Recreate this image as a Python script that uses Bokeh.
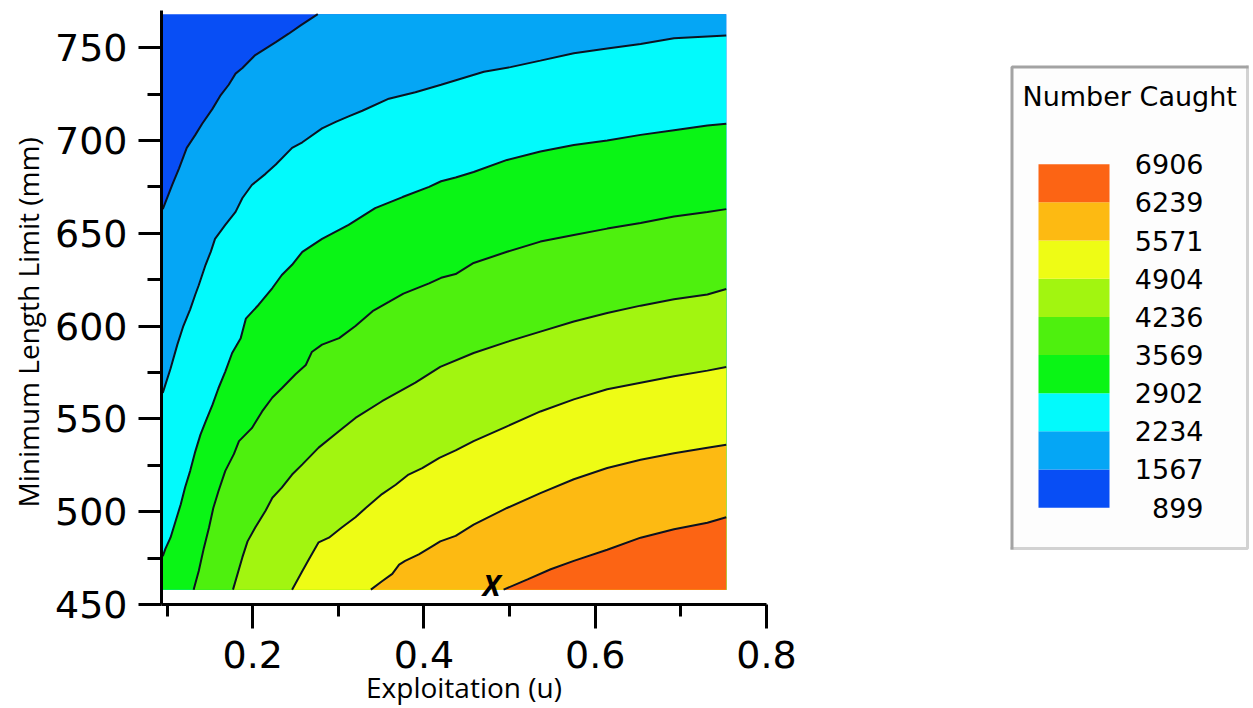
from bokeh.plotting import figure
from bokeh.models import Range1d, FixedTicker, Title
from bokeh.layouts import row
from bokeh.embed import file_html
from bokeh.resources import INLINE
from bokeh.core.properties import value

# ---------------- data ----------------
LEVELS = [899, 1567, 2234, 2902, 3569, 4236, 4904, 5571, 6239, 6906]
LEVEL_LABELS = ["899", "1567", "2234", "2902", "3569", "4236", "4904", "5571", "6239", "6906"]
BAND_COLORS = ["#084EF5", "#05A6F5", "#02FAFC", "#0AF515", "#4EF00E",
               "#A2F510", "#EEFC15", "#FDBA12", "#FC6414"]

U_MIN, U_MAX = 0.095, 0.753      # exploitation extent of the surface
L_MIN, L_MAX = 458, 768          # minimum length limit extent (mm)

# contour lines, (u, L) pairs, one per level boundary
C1567_U = [0.095, 0.106, 0.114, 0.123, 0.133, 0.141, 0.153, 0.162, 0.172, 0.180, 0.188,
           0.203, 0.215, 0.227, 0.242, 0.256, 0.276]
C1567_L = [663, 676, 685, 696, 703, 709, 717, 724, 730, 736, 739,
           746, 749.5, 753, 757.5, 762, 768]

C2234_U = [0.095, 0.104, 0.112, 0.119, 0.127, 0.133, 0.137, 0.145, 0.151, 0.156,
           0.168, 0.180, 0.188, 0.199, 0.215, 0.227, 0.246, 0.258, 0.281, 0.297,
           0.312, 0.328, 0.359, 0.390, 0.420, 0.470, 0.501, 0.536, 0.575, 0.614,
           0.653, 0.692, 0.731, 0.753]
C2234_L = [564, 577, 590, 600, 609, 617, 622, 633, 640, 647,
           654.5, 661.5, 669, 676, 682, 687, 696, 699, 706.5, 710,
           713, 716, 722.5, 726, 730, 737, 739.5, 743, 747, 749.5,
           752, 755, 756, 756.5]

C2902_U = [0.095, 0.098, 0.104, 0.110, 0.116, 0.121, 0.127, 0.133, 0.139, 0.145,
           0.153, 0.160, 0.168, 0.176, 0.186, 0.192, 0.207, 0.223, 0.234, 0.246,
           0.258, 0.281, 0.312, 0.343, 0.375, 0.406, 0.420, 0.437, 0.458, 0.497,
           0.536, 0.575, 0.614, 0.653, 0.692, 0.731, 0.753]
C2902_L = [476, 480, 486, 495, 504, 513, 522, 532.5, 541.5, 548.5,
           557.5, 566.5, 575.5, 585.5, 593.5, 604, 611.5, 620.5, 627.5, 633,
           640, 647, 654.5, 663.5, 669.5, 675, 678, 680, 683, 689.5,
           694, 697.5, 700, 703, 705.5, 708, 709]

C3569_U = [0.131, 0.137, 0.143, 0.149, 0.154, 0.160, 0.168, 0.178, 0.184, 0.199,
           0.211, 0.223, 0.234, 0.250, 0.262, 0.269, 0.281, 0.301, 0.320, 0.340,
           0.359, 0.376, 0.406, 0.420, 0.437, 0.458, 0.497, 0.536, 0.575, 0.614,
           0.653, 0.692, 0.731, 0.753]
C3569_L = [458, 468, 480.5, 491.5, 502, 511, 522, 531, 538, 545,
           554, 561.5, 566.5, 574, 579, 586, 590, 593.5, 600, 608,
           613, 617.5, 623, 626, 628, 634, 640, 645.5, 649, 652.5,
           655.5, 659, 661.5, 663]

C4236_U = [0.177, 0.188, 0.194, 0.203, 0.215, 0.223, 0.234, 0.246, 0.258, 0.277,
           0.301, 0.320, 0.351, 0.390, 0.419, 0.458, 0.497, 0.536, 0.575, 0.614,
           0.653, 0.692, 0.731, 0.753]
C4236_L = [458, 475.5, 484, 491.5, 500.5, 507.5, 513, 520, 525.5, 534.5,
           543.5, 550.5, 559.5, 569.5, 578, 585.5, 591.5, 597, 602.5, 607,
           611, 614.5, 617, 620]

C4904_U = [0.246, 0.258, 0.267, 0.277, 0.289, 0.304, 0.320, 0.332, 0.351, 0.367,
           0.382, 0.398, 0.418, 0.437, 0.458, 0.497, 0.536, 0.575, 0.614, 0.653,
           0.692, 0.731, 0.753]
C4904_L = [458, 468, 475.5, 483.5, 486, 491.5, 497, 502, 509.5, 514.5,
           520, 523.5, 529, 533, 538, 546, 554, 560.5, 566, 569.5,
           573, 576, 578]

C5571_U = [0.338, 0.351, 0.363, 0.371, 0.378, 0.394, 0.410, 0.419, 0.437, 0.458,
           0.497, 0.536, 0.575, 0.614, 0.653, 0.692, 0.731, 0.753]
C5571_L = [458, 462.5, 466.5, 471.5, 473.5, 477, 481.5, 484, 487, 493,
           502, 510, 517.5, 523.5, 528, 531.5, 534.5, 536]

C6239_U = [0.493, 0.521, 0.548, 0.575, 0.614, 0.653, 0.692, 0.731, 0.753]
C6239_L = [458, 463.5, 469, 473.5, 479.5, 486, 490.5, 494, 497]

CONTOURS_U = [C1567_U, C2234_U, C2902_U, C3569_U, C4236_U, C4904_U, C5571_U, C6239_U]
CONTOURS_L = [C1567_L, C2234_L, C2902_L, C3569_L, C4236_L, C4904_L, C5571_L, C6239_L]

MARK_U, MARK_L, MARK_TEXT = 0.479, 461, "X"

X_TICKS = [0.2, 0.4, 0.6, 0.8]
X_MINOR = [0.1, 0.3, 0.5, 0.7]
Y_TICKS = [450, 500, 550, 600, 650, 700, 750]
Y_MINOR = [475, 525, 575, 625, 675, 725]

X_TITLE = "Exploitation (u)"
Y_TITLE = "Minimum Length Limit (mm)"
LEGEND_TITLE = "Number Caught"

# ---------------- layout constants (pixels) ----------------
W, H = 1253, 708
MAIN_W = 1000
FRAME_TOP, FRAME_BOTTOM = 10, 605

# ---------------- main contour figure ----------------
p = figure(width=MAIN_W, height=H, x_range=Range1d(0.0935, 0.8), y_range=Range1d(450, 770),
           output_backend="svg", toolbar_location=None,
           min_border_left=161, min_border_right=MAIN_W - 766,
           min_border_top=FRAME_TOP, min_border_bottom=H - FRAME_BOTTOM)
p.grid.visible = False
p.outline_line_color = None
p.background_fill_color = "white"
p.border_fill_color = "white"

# lowest band as the full surface
p.quad(left=[U_MIN], right=[U_MAX], bottom=[L_MIN], top=[L_MAX],
       fill_color=BAND_COLORS[0], line_color=None)


def high_side(us, ls):
    xs, ys = list(us), list(ls)
    if ys[-1] >= L_MAX:
        xs.append(U_MAX); ys.append(L_MAX)
    xs.append(U_MAX); ys.append(L_MIN)
    if xs[0] <= U_MIN:
        xs.append(U_MIN); ys.append(L_MIN)
    return xs, ys


polys = [high_side(u, l) for u, l in zip(CONTOURS_U, CONTOURS_L)]
p.patches(xs=[a for a, b in polys], ys=[b for a, b in polys],
          fill_color=BAND_COLORS[1:], line_color=None)
p.multi_line(xs=CONTOURS_U, ys=CONTOURS_L, line_color="#0c1220", line_width=2)

p.text(x=[MARK_U], y=[MARK_L], text=[MARK_TEXT], text_font=value("Open Sans"),
       text_font_style="bold italic", text_font_size="29px",
       text_align="center", text_baseline="middle", text_color="black")

p.xaxis.ticker = FixedTicker(ticks=X_TICKS, minor_ticks=X_MINOR)
p.yaxis.ticker = FixedTicker(ticks=Y_TICKS, minor_ticks=Y_MINOR)
for ax in (p.xaxis[0], p.yaxis[0]):
    ax.axis_line_width = 3
    ax.axis_line_color = "black"
    ax.major_tick_line_width = 3
    ax.minor_tick_line_width = 3
    ax.major_tick_line_color = "black"
    ax.minor_tick_line_color = "black"
    ax.major_tick_in = 0
    ax.minor_tick_in = 0
    ax.major_label_text_font = "DejaVu Sans"
    ax.major_label_text_font_size = "38px"
    ax.major_label_text_color = "black"
p.yaxis.major_tick_out = 23
p.yaxis.minor_tick_out = 14
p.yaxis.major_label_standoff = 11
p.xaxis.major_tick_out = 24
p.xaxis.minor_tick_out = 12
p.xaxis.major_label_standoff = 12

p.xaxis.axis_label = X_TITLE
p.xaxis.axis_label_text_font = "Open Sans"
p.xaxis.axis_label_text_font_size = "28px"
p.xaxis.axis_label_text_font_style = "normal"
p.xaxis.axis_label_text_color = "black"
p.xaxis.axis_label_standoff = -3

p.add_layout(Title(text=Y_TITLE, align="left", offset=FRAME_BOTTOM - 508, standoff=10,
                   text_font="Open Sans", text_font_size="28px",
                   text_font_style="normal", text_color="black"), "left")

# ---------------- legend figure ----------------
BAR_TOP_PX, BAR_BOT_PX, BOX_TOP_PX, BOX_BOT_PX = 164, 508, 65, 550
BOX_LEFT, BOX_RIGHT, BAR_LEFT, BAR_RIGHT, LAB_RIGHT, TITLE_LEFT = 10, 248, 38, 109, 203, 22
k = (LEVELS[-1] - LEVELS[0]) / (BAR_BOT_PX - BAR_TOP_PX)


def lev(py):
    return LEVELS[-1] + (BAR_TOP_PX - py) * k


q = figure(width=W - MAIN_W, height=H, x_range=Range1d(0, W - MAIN_W),
           y_range=Range1d(lev(FRAME_BOTTOM), lev(FRAME_TOP)),
           x_axis_type=None, y_axis_type=None, toolbar_location=None, output_backend="svg",
           min_border_left=0, min_border_right=0, min_border_top=FRAME_TOP,
           min_border_bottom=H - FRAME_BOTTOM)
q.outline_line_color = None
q.background_fill_color = "white"
q.border_fill_color = "white"

q.quad(left=[BOX_LEFT], right=[BOX_RIGHT], bottom=[lev(BOX_BOT_PX)], top=[lev(BOX_TOP_PX)],
       fill_color="#fdfdfd", line_color=None)
q.line(x=[BOX_RIGHT - 1, BOX_RIGHT - 1, BOX_LEFT], y=[lev(BOX_TOP_PX), lev(BOX_BOT_PX - 1), lev(BOX_BOT_PX - 1)],
       line_color="#d2d2d2", line_width=3)
q.line(x=[BOX_LEFT + 1.5, BOX_LEFT + 1.5, BOX_RIGHT], y=[lev(BOX_BOT_PX), lev(BOX_TOP_PX + 1.5), lev(BOX_TOP_PX + 1.5)],
       line_color="#a3a3a3", line_width=3)

q.quad(left=BAR_LEFT, right=BAR_RIGHT, bottom=LEVELS[:-1], top=LEVELS[1:],
       fill_color=BAND_COLORS, line_color=None)
q.text(x=[LAB_RIGHT] * len(LEVELS), y=LEVELS, text=LEVEL_LABELS,
       text_font=value("DejaVu Sans"), text_font_size="27px",
       text_align="right", text_baseline="middle", text_color="black")
q.text(x=[TITLE_LEFT], y=[lev(96.5)], text=[LEGEND_TITLE],
       text_font=value("DejaVu Sans"), text_font_size="27px",
       text_align="left", text_baseline="middle", text_color="black")

layout = row(p, q)
open("out.html", "w").write(file_html(layout, INLINE))
